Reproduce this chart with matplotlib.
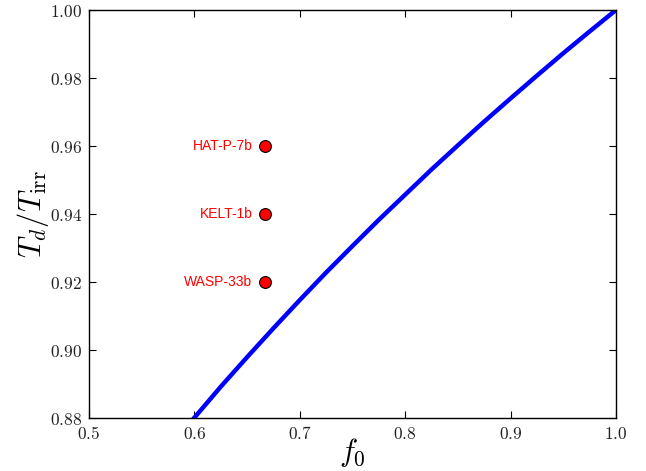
import matplotlib
matplotlib.use("Agg")
import matplotlib.pyplot as plt
from matplotlib.ticker import FuncFormatter, MultipleLocator

plt.rcParams['mathtext.fontset'] = 'cm'

# curve values
f0_curve = [0.59, 0.60, 0.625, 0.65, 0.675, 0.70, 0.725, 0.75, 0.775, 0.80,
            0.825, 0.85, 0.875, 0.90, 0.925, 0.95, 0.975, 1.00]
td_curve = [0.8764, 0.8801, 0.8892, 0.8979, 0.9064, 0.9147, 0.9228, 0.9306,
            0.9383, 0.9457, 0.9531, 0.9602, 0.9672, 0.9740, 0.9807, 0.9873,
            0.9937, 1.0000]

planets = ["HAT-P-7b", "KELT-1b", "WASP-33b"]
planet_f0 = [0.667, 0.667, 0.667]
planet_td = [0.96, 0.94, 0.92]

fig = plt.figure(figsize=(6.46, 4.71), dpi=100)
ax = fig.add_axes([89/646, 53/471, 527/646, 408/471])

ax.plot(f0_curve, td_curve, color='blue', lw=3.2, solid_capstyle='butt')
ax.plot(planet_f0, planet_td, 'o', color='red', mec='black', mew=0.8, ms=8.5,
        linestyle='none')
for name, x, y in zip(planets, planet_f0, planet_td):
    ax.annotate(name, (x, y), xytext=(-9, 0), textcoords='offset points',
                ha='right', va='center', color='red', fontsize=10,
                family='Liberation Sans')

ax.set_xlim(0.5, 1.0)
ax.set_ylim(0.88, 1.0)
ax.xaxis.set_major_locator(MultipleLocator(0.1))
ax.yaxis.set_major_locator(MultipleLocator(0.02))
ax.xaxis.set_major_formatter(FuncFormatter(lambda v, p: r'$%.1f$' % v))
ax.yaxis.set_major_formatter(FuncFormatter(lambda v, p: r'$%.2f$' % v))
ax.tick_params(direction='in', top=True, right=True, length=5, width=0.8,
               labelsize=12.5, pad=5, labelcolor='#222222')
for s in ax.spines.values():
    s.set_linewidth(1.0)

ax.set_xlabel(r'$f_0$', fontsize=22, labelpad=-5)
ax.set_ylabel(r'$T_d/T_{\rm irr}$', fontsize=22, labelpad=-1)

fig.savefig('out.png', dpi=100)
